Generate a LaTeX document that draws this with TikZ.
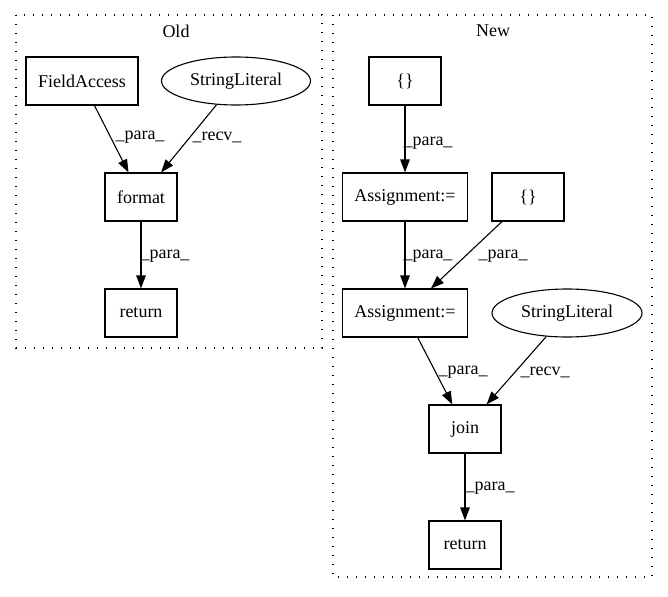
\documentclass[tikz,border=0pt]{standalone}
\usepackage{fontspec}
\setmainfont{Liberation Serif}
\usetikzlibrary{arrows.meta,shapes.geometric}
\begin{document}
\begin{tikzpicture}[x=1pt,y=-1pt,
  every node/.style={font=\fontsize{18}{20}\selectfont},
  box/.style={draw,line width=1.1pt,rectangle,minimum width=72pt,minimum height=48pt,inner sep=0pt},
  oval/.style={draw,line width=1.1pt,ellipse,minimum width=149pt,minimum height=48pt,inner sep=0pt},
  cluster/.style={draw,line width=1.1pt,dash pattern=on 1.4pt off 7.6pt},
  edge/.style={line width=1.1pt,-{Triangle[length=13pt,width=9.5pt]}},
  lab/.style={inner sep=0pt}]
\useasboundingbox (0,0) rectangle (668,596);
% clusters
\draw[cluster] (16,15) rectangle (322,348);
\node[lab] (oldt) at (176,31) {Old};
\draw[cluster] (333,15) rectangle (652,577);
\node[lab] (newt) at (493,31) {New};
% Old nodes
\node[box,minimum width=112pt] (fa) at (82,81) {FieldAccess};
\node[oval] (sl1) at (236,81) {StringLiteral};
\node[box] (fmt) at (141,197) {format};
\node[box] (ret1) at (141,313) {return};
\draw[edge] (fa) -- (fmt);
\draw[edge] (sl1) -- (fmt);
\draw[edge] (fmt) -- (ret1);
\node[lab] (l1) at (140,137) {\_para\_};
\node[lab] (l2) at (217,137) {\_recv\_};
\node[lab] (l3) at (165,256) {\_para\_};
% New nodes
\node[box] (br1) at (405,81) {\{\}};
\node[box,minimum width=125pt] (as1) at (405,197) {Assignment:=};
\node[box] (br2) at (528,197) {\{\}};
\node[box,minimum width=125pt] (as2) at (405,313) {Assignment:=};
\node[oval,minimum width=150pt] (sl2) at (567,313) {StringLiteral};
\node[box] (join) at (465,429) {join};
\node[box] (ret2) at (465,545) {return};
\draw[edge] (br1) -- (as1);
\draw[edge] (as1) -- (as2);
\draw[edge] (br2) -- (as2);
\draw[edge] (as2) -- (join);
\draw[edge] (sl2) -- (join);
\draw[edge] (join) -- (ret2);
\node[lab] (l4) at (428,143) {\_para\_};
\node[lab] (l5) at (428,256) {\_para\_};
\node[lab] (l6) at (503,256) {\_para\_};
\node[lab] (l7) at (463,372) {\_para\_};
\node[lab] (l8) at (545,372) {\_recv\_};
\node[lab] (l9) at (490,488) {\_para\_};
\end{tikzpicture}
\end{document}
